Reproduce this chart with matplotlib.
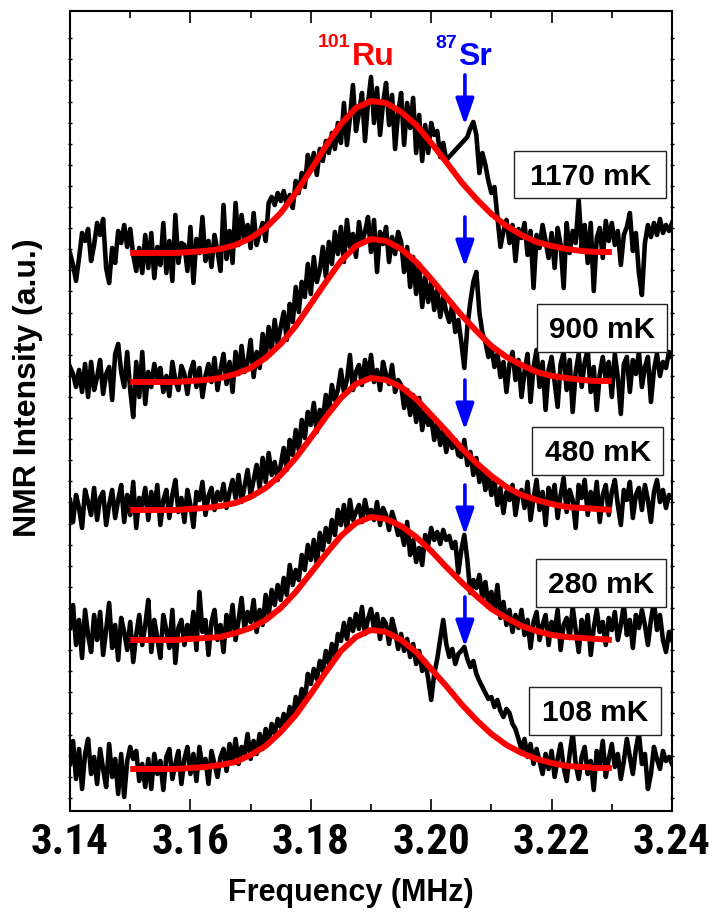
import numpy as np
import matplotlib.pyplot as plt
from matplotlib import font_manager
from matplotlib.font_manager import FontProperties
from matplotlib.patches import Rectangle

# sample grid of the spectra and of the fitted curves (MHz)
freq = np.linspace(3.14, 3.24, 201)
fit_freq = np.linspace(3.15, 3.23, 33)

temps = ["1170 mK", "900 mK", "480 mK", "280 mK", "108 mK"]

# measured spectra (a.u., relative to each trace's baseline); None = no data
spec_1170 = [0, -12, -28, -5, 20, 12, 24, -8, 8, 30,
             18, 34, -15, -30, 5, -10, 22, 10, 28, 6,
             24, -2, -18, 5, -20, 18, -15, 20, -25, 6,
             -12, 30, -20, 12, -28, 38, -10, 10, 8, -18,
             26, -30, 14, 0, 36, -8, 12, -14, 18, 2,
             -18, 48, -6, 22, -10, 50, 8, 38, 14, 28,
             5, 40, 8, 20, 30, 12, 50, 56, 48, 60,
             52, 62, 48, 58, 45, 72, 60, 80, 66, 98,
             84, 100, 78, 104, 92, 112, 100, 120, 104, 130,
             110, 150, 108, 135, 168, 122, 140, 160, 112, 150,
             176, 130, 165, 118, 150, 170, 128, 158, 104, 140,
             160, 108, 150, 125, 155, 100, 138, 92, 128, 100,
             130, 118, 122, 96, 110, 93, None, None, None, None,
             None, None, 116, 125, 131, 118, 80, 100, 88, 72,
             60, 66, 36, 6, 22, 33, 10, 28, -8, 24,
             15, 30, -2, 22, -35, 18, 5, 28, 12, -5,
             20, -15, 25, 8, -35, 30, 0, 22, 10, 53,
             5, 28, -10, 30, -38, 15, 25, -5, 32, 12,
             30, 8, 22, -12, 18, 26, 40, 2, 20, -20,
             -42, 10, 28, 16, 30, 18, 34, 20, 28, 22,
             30]

spec_900 = [15, 8, -5, 12, -10, 18, -15, 20, -8, 5,
            22, -12, 8, 15, -18, 28, 38, 10, -5, 30,
            -8, -35, 20, -15, 30, -22, 10, -5, 18, 4,
            14, -10, 6, -14, 20, 2, -8, 16, 8, -12,
            10, 20, -5, 14, -15, 6, 18, 0, 24, -8,
            12, 28, -2, 20, -10, 30, 8, 36, 10, 20,
            42, 5, 30, 14, 48, 25, 55, 32, 62, 38,
            55, 70, 42, 78, 60, 95, 70, 100, 85, 118,
            88, 125, 100, 112, 135, 105, 140, 118, 150, 128,
            155, 120, 162, 135, 148, 125, 160, 140, 150, 165,
            130, 162, 110, 150, 138, 155, 120, 145, 128, 150,
            140, 110, 135, 95, 125, 88, 118, 75, 105, 80,
            100, 72, 92, 65, 85, 70, 60, 78, 50, 62,
            40, 14, 55, 80, 100, 110, 70, 49, 40, 25,
            35, 15, 28, 5, 20, -10, 18, 30, 2, 22,
            -15, 10, 28, -20, 15, 32, -5, 20, -28, 12,
            25, 0, -25, 18, 30, -8, 22, -30, 10, 28,
            -5, 20, 32, -10, 15, -28, 8, 25, 2, 20,
            -15, 28, 5, -32, 18, 25, -10, 22, 8, 30,
            -5, 15, 25, -20, 12, 28, 6, 20, 14, 30,
            25]

spec_480 = [10, -12, 15, 2, -18, 20, 8, -5, 22, -10,
            12, 18, -15, 5, 20, -8, 10, 25, -12, 15,
            -5, 28, -18, 12, 5, 22, -10, 18, 0, 25,
            -15, 10, 20, -8, 15, 30, -2, 12, -12, 20,
            5, -17, 18, 10, 28, -5, 14, 22, 0, 18,
            10, 26, 2, 18, 30, 12, 35, 8, 24, 40,
            15, 30, 45, 22, 52, 28, 57, 35, 48, 30,
            45, 62, 40, 70, 55, 80, 60, 90, 72, 98,
            85, 107, 78, 100, 92, 115, 98, 125, 110, 120,
            140, 118, 130, 155, 120, 138, 145, 125, 150, 132,
            155, 128, 140, 120, 148, 135, 126, 145, 118, 130,
            125, 102, 120, 95, 115, 88, 112, 80, 100, 85,
            92, 70, 88, 65, 80, 58, 75, 62, 70, 55,
            53, 70, 45, 58, 35, 52, 28, 42, 20, 36,
            15, 30, 5, 22, -3, 18, 10, 25, -5, 15,
            20, 2, 28, -10, 12, 30, 0, 18, -15, 22,
            8, 25, -8, 15, 32, -2, 20, 10, -18, 25,
            12, 30, -5, 18, 2, 28, -12, 15, 25, -5,
            18, 30, 5, -15, 20, 10, 28, -8, 15, 22,
            0, 25, 10, -12, 18, 30, 8, 20, 2, 15,
            12]

spec_280 = [12, 35, -5, 20, -18, 30, 5, -12, 25, 0,
            28, -15, 10, 37, -8, 15, -20, 22, 8, -10,
            18, -22, 5, 25, -5, 15, 40, -12, 20, 2,
            -18, 25, 10, -8, 30, -23, 12, 20, -5, 15,
            2, 28, -10, 48, 8, 20, -15, 18, 30, 0,
            15, -12, 25, 8, 35, 0, 20, 42, 10, 28,
            18, 40, 8, 30, 15, 45, 25, 50, 35, 55,
            40, 62, 45, 75, 55, 70, 60, 85, 70, 95,
            80, 100, 75, 107, 90, 112, 98, 120, 105, 130,
            115, 135, 110, 140, 120, 128, 135, 118, 140, 125,
            130, 120, 138, 115, 132, 125, 110, 128, 118, 105,
            110, 95, 118, 85, 100, 78, 92, 75, 105, 95,
            112, 100, 108, 96, 110, 100, 104, 92, 98, 67,
            90, 105, 80, 47, 60, 52, 65, 42, 58, 35,
            48, 30, 55, 22, 38, 15, 30, 8, 25, 12,
            30, 5, 20, -8, 18, 28, 0, 15, 25, -5,
            18, 8, 30, -10, 15, 22, 2, 33, 10, -12,
            20, 5, 25, -15, 12, 30, 8, 18, -5, 22,
            10, 28, 0, 15, 35, 5, 20, -8, 25, 12,
            30, 15, -5, 20, 38, 10, 25, 0, -12, 8,
            0]

spec_108 = [5, 28, -10, 20, -20, 15, 30, -5, 12, -15,
            20, 0, -18, 25, -8, 10, -25, 15, -28, 8,
            22, 10, 18, -12, 5, -18, 10, -20, 15, -5,
            8, -21, 12, 20, -10, 5, 18, -15, 10, 22,
            -5, 15, -12, 22, 2, 10, -15, 18, 5, -8,
            12, 20, -2, 25, 8, 30, 5, 22, 15, 35,
            10, 28, 15, 35, 20, 40, 28, 45, 35, 50,
            42, 55, 45, 62, 50, 72, 60, 80, 68, 95,
            85, 100, 90, 108, 98, 118, 105, 125, 112, 135,
            128, 146, 130, 150, 138, 155, 140, 162, 135, 150,
            160, 140, 155, 130, 150, 145, 125, 150, 138, 120,
            135, 118, 130, 112, 125, 105, 118, 98, 108, 90,
            69, 95, 110, 130, 149, 125, 112, 120, 105, 115,
            118, 122, 110, 102, 108, 95, 88, 82, 76, 70,
            72, 62, 69, 58, 52, 60, 56, 45, 40, 30,
            19, 30, 12, 25, 5, 20, 8, -5, 15, 0,
            18, -8, 10, 25, 2, -12, 15, 36, 5, -10,
            12, 22, -5, 8, -21, 18, 5, 28, -8, 10,
            25, 2, 15, -10, 8, 30, 12, -5, 20, 36,
            5, 15, -20, -5, 22, 10, 0, 18, 8, 12,
            5]

# fitted 101Ru lines (same baseline convention)
fit_1170 = [0, 0, 0, 0, 1, 2, 4, 8, 15, 25, 40, 60, 83, 107, 129, 145, 152,
            150, 141, 128, 110, 91, 71, 54, 39, 27, 18, 11, 7, 4, 2, 1, 1]
fit_900 = [0, 0, 0, 0, 1, 2, 4, 8, 14, 24, 38, 56, 78, 100, 121, 136, 143,
           141, 133, 120, 103, 85, 67, 51, 36, 25, 17, 10, 6, 4, 2, 1, 1]
fit_480 = [0, 0, 0, 0, 1, 2, 4, 7, 13, 22, 35, 52, 72, 93, 112, 126, 132,
           130, 123, 111, 95, 79, 62, 47, 34, 23, 15, 10, 6, 3, 2, 1, 0]
fit_280 = [0, 0, 0, 0, 1, 2, 3, 7, 12, 20, 32, 48, 67, 86, 104, 117, 123,
           121, 114, 103, 89, 73, 58, 44, 31, 22, 14, 9, 5, 3, 2, 1, 0]
fit_108 = [0, 0, 0, 0, 1, 2, 4, 7, 14, 23, 37, 54, 75, 97, 118, 132, 139,
           137, 129, 117, 100, 83, 65, 49, 35, 24, 16, 10, 6, 3, 2, 1, 1]

spectra = [spec_1170, spec_900, spec_480, spec_280, spec_108]
fits = [fit_1170, fit_900, fit_480, fit_280, fit_108]

sr_freq = 3.2056

# layout: stacking offsets, label boxes (centre x, centre y, w px, h px), arrow tips
offsets = [558, 429, 301, 171, 42]
boxes = [(3.2264, 636, 152, 47), (3.2284, 483, 130, 48), (3.2277, 360, 131, 48),
         (3.2282, 228, 130, 48), (3.2272, 100, 132, 48)]
arrow_tip = [686, 544, 381, 276, 164]

plt.rcParams['font.family'] = ['Liberation Sans', 'DejaVu Sans']
plt.rcParams['font.weight'] = 'bold'


def narrow_bold():
    # tick numbers in the original are a narrow bold face
    files = [f.fname for f in font_manager.fontManager.ttflist]
    for key in ['liberationsansnarrow-bold.', 'notosans-condensedbold.',
                'opensans-condensedbold', 'robotocondensed-bold',
                'arialnarrowbold', 'arial narrow bold']:
        for fn in files:
            if key in fn.lower().replace('_', ''):
                return fn
    return None


fig = plt.figure(figsize=(7.13, 9.15), dpi=100)
ax = fig.add_axes([0.0982, 0.1137, 0.8443, 0.8743])

for spec, fit, off in zip(spectra, fits, offsets):
    s = np.array(spec, dtype=float)
    m = ~np.isnan(s)
    ax.plot(freq[m], s[m] + off, color='black', lw=3.3,
            solid_joinstyle='round', zorder=2)
    ax.plot(fit_freq, np.array(fit) + off, color='red', lw=4.3,
            solid_capstyle='butt', zorder=3)

for tip in arrow_tip:
    ax.annotate('', xy=(sr_freq, tip), xytext=(sr_freq, tip + 50),
                arrowprops=dict(arrowstyle='-|>,head_length=0.8,head_width=0.28',
                                color='blue', lw=2.6, mutation_scale=20,
                                shrinkA=0, shrinkB=0), zorder=5)

px_f = 0.1 / 602.0  # frequency span of one pixel
for label, (bx, by, bw, bh) in zip(temps, boxes):
    ax.add_patch(Rectangle((bx - bw / 2 * px_f, by - bh / 2), bw * px_f, bh,
                           fc='white', ec='#222222', lw=1.0, zorder=6))
    ax.text(bx, by - 10.5, label, fontsize=21.5, fontweight='bold',
            ha='center', va='baseline', zorder=7)

ax.text(3.1868, 746, 'Ru', color='red', fontsize=23, fontweight='bold',
        ha='left', va='baseline')
ax.text(3.1865, 764, '101', color='red', fontsize=14, fontweight='bold',
        ha='right', va='baseline')
ax.text(3.2045, 746, 'Sr', color='blue', fontsize=23, fontweight='bold',
        ha='left', va='baseline')
ax.text(3.2043, 763, '87', color='blue', fontsize=14, fontweight='bold',
        ha='right', va='baseline')

ax.set_xlim(3.14, 3.24)
ax.set_ylim(0, 800)
ax.set_xticks([3.14, 3.16, 3.18, 3.20, 3.22, 3.24])
ax.set_xticks([3.15, 3.17, 3.19, 3.21, 3.23], minor=True)
nf = narrow_bold()
if nf:
    tick_fp = FontProperties(fname=nf, size=31)
else:
    tick_fp = FontProperties(family='Liberation Sans', weight='bold', size=27)
ax.set_xticklabels(['3.14', '3.16', '3.18', '3.20', '3.22', '3.24'],
                   fontproperties=tick_fp)
ax.set_yticks(np.arange(772.7, 0, -21.1))
ax.set_yticklabels([])
ax.tick_params(axis='x', which='major', direction='in', length=8.5, width=1.2,
               top=True, pad=8)
ax.tick_params(axis='x', which='minor', direction='in', length=5, width=1.2,
               top=True)
ax.tick_params(axis='y', which='major', direction='inout', length=3, width=1.0,
               right=True)
for sp in ax.spines.values():
    sp.set_linewidth(1.5)

fig.text(351 / 713, 1 - 893 / 915, 'Frequency (MHz)', fontsize=22,
         fontweight='bold', ha='center', va='center')
fig.text(0.039, 0.576, 'NMR Intensity (a.u.)', fontsize=23, fontweight='bold',
         rotation=90, ha='center', va='center')

fig.savefig('out.png', dpi=100)
